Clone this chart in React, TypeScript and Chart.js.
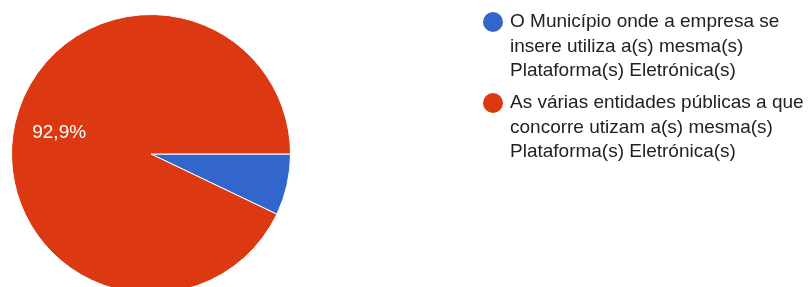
import React, { useEffect, useRef } from "react";
import { Chart, registerables } from "chart.js";

Chart.register(...registerables);

const categories: string[][] = [
  ["O Município onde a empresa se", "insere utiliza a(s) mesma(s)", "Plataforma(s) Eletrónica(s)"],
  ["As várias entidades públicas a que", "concorre utizam a(s) mesma(s)", "Plataforma(s) Eletrónica(s)"],
];
const values: number[] = [7.1, 92.9];
const colors: string[] = ["#3366CC", "#DC3912"];
const sliceLabels: string[] = ["", "92,9%"];

const FONT = "'Liberation Sans', Arial, sans-serif";

const sliceLabelPlugin = {
  id: "sliceLabels",
  afterDatasetsDraw(chart: any) {
    const ctx = chart.ctx;
    const meta = chart.getDatasetMeta(0);
    meta.data.forEach((arc: any, i: number) => {
      const text = sliceLabels[i];
      if (!text) return;
      const p = arc.getProps(["x", "y", "startAngle", "endAngle", "outerRadius"], true);
      const mid = (p.startAngle + p.endAngle) / 2;
      const r = p.outerRadius * 0.675;
      ctx.save();
      ctx.fillStyle = "#ffffff";
      ctx.font = `19px ${FONT}`;
      ctx.textAlign = "center";
      ctx.textBaseline = "middle";
      ctx.fillText(text, p.x + Math.cos(mid) * r, p.y + Math.sin(mid) * r);
      ctx.restore();
    });
  },
};

const customLegendPlugin = {
  id: "customLegend",
  afterDraw(chart: any) {
    const ctx = chart.ctx;
    const circleX = 493;
    const textX = 510;
    const lineH = 24.5;
    const itemGap = 32;
    let y = 22;
    ctx.save();
    ctx.font = `19px ${FONT}`;
    ctx.textBaseline = "middle";
    ctx.textAlign = "left";
    categories.forEach((lines, i) => {
      ctx.fillStyle = colors[i];
      ctx.beginPath();
      ctx.arc(circleX, y, 10, 0, Math.PI * 2);
      ctx.fill();
      ctx.fillStyle = "#222222";
      lines.forEach((ln, j) => {
        ctx.fillText(ln, textX, y + j * lineH);
      });
      y += (lines.length - 1) * lineH + itemGap;
    });
    ctx.restore();
  },
};

export default function App() {
  const ref = useRef<HTMLCanvasElement | null>(null);
  useEffect(() => {
    if (!ref.current) return;
    const chart = new Chart(ref.current, {
      type: "pie",
      data: {
        labels: categories.map((c) => c.join(" ")),
        datasets: [
          {
            data: values,
            backgroundColor: colors,
            borderColor: "#ffffff",
            borderWidth: 1,
          },
        ],
      },
      options: {
        responsive: false,
        animation: false,
        rotation: 90,
        layout: { padding: { left: 11, top: 14, right: 518, bottom: 6 } },
        plugins: {
          legend: { display: false },
          tooltip: { enabled: false },
        },
      },
      plugins: [sliceLabelPlugin, customLegendPlugin],
    });
    return () => chart.destroy();
  }, []);
  return (
    <div
      style={{
        position: "absolute",
        left: 0,
        top: 0,
        width: 809,
        height: 287,
        overflow: "hidden",
        background: "#ffffff",
      }}
    >
      <canvas ref={ref} width={809} height={300} style={{ width: 809, height: 300, display: "block" }} />
    </div>
  );
}
